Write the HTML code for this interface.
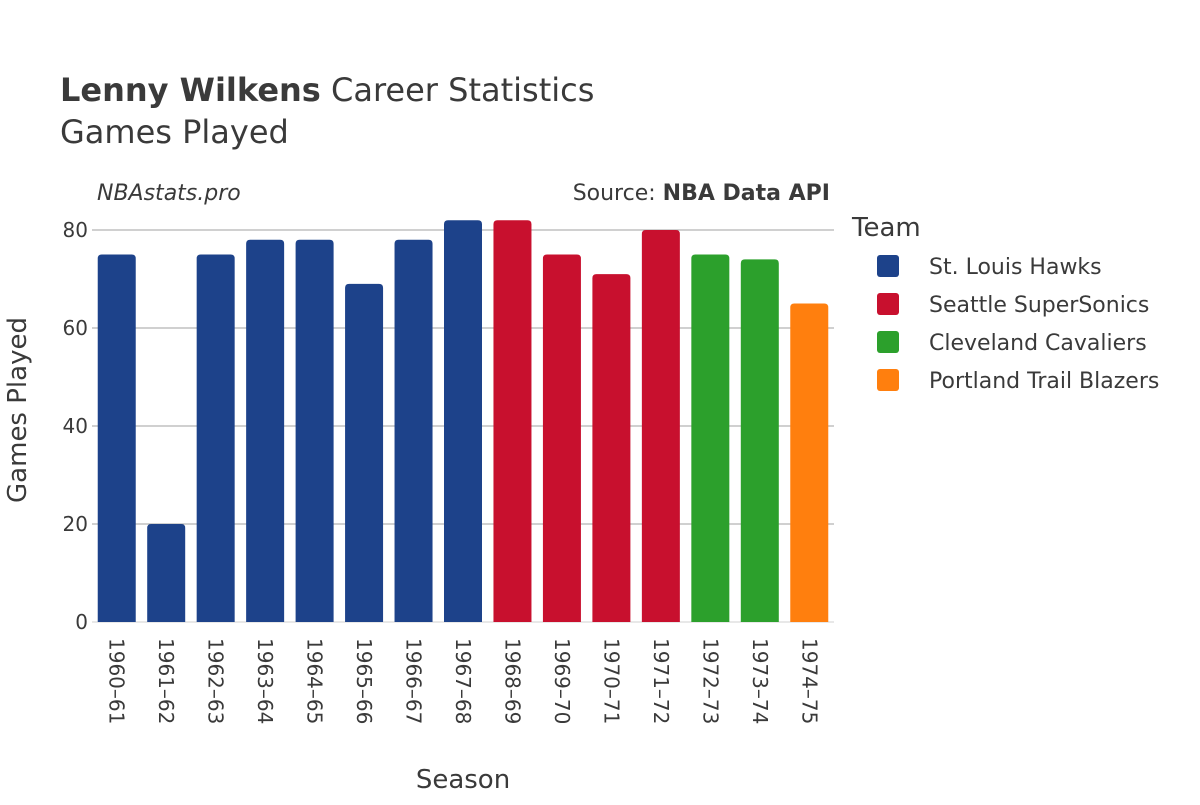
<!DOCTYPE html>
<html><head><meta charset="utf-8"><style>
body{margin:0;background:#fff;font-family:"Liberation Sans","DejaVu Sans",sans-serif;}
svg text{font-family:"DejaVu Sans","Liberation Sans",sans-serif;fill:#3a3a3a;}
</style></head><body>
<svg id="chart" width="1200" height="800">
<text x="60" y="101" font-size="32"><tspan font-weight="bold">Lenny Wilkens</tspan> Career Statistics</text>
<text x="60" y="143" font-size="32">Games Played</text>
<text x="97" y="200" font-size="22" font-style="italic">NBAstats.pro</text>
<text x="830" y="200" font-size="22" text-anchor="end">Source: <tspan font-weight="bold">NBA Data API</tspan></text>
<g id="grid"></g>
<g id="bars"></g>
<g id="xticks"></g>
<text x="463" y="788" font-size="26" text-anchor="middle">Season</text>
<text transform="translate(26,410) rotate(-90)" font-size="26" text-anchor="middle">Games Played</text>
<g id="legend"></g>
</svg>
<script>
const seasons=["1960–61","1961–62","1962–63","1963–64","1964–65","1965–66","1966–67","1967–68","1968–69","1969–70","1970–71","1971–72","1972–73","1973–74","1974–75"];
const games=[75,20,75,78,78,69,78,82,82,75,71,80,75,74,65];
const teams=["St. Louis Hawks","St. Louis Hawks","St. Louis Hawks","St. Louis Hawks","St. Louis Hawks","St. Louis Hawks","St. Louis Hawks","St. Louis Hawks","Seattle SuperSonics","Seattle SuperSonics","Seattle SuperSonics","Seattle SuperSonics","Cleveland Cavaliers","Cleveland Cavaliers","Portland Trail Blazers"];
const legendTeams=["St. Louis Hawks","Seattle SuperSonics","Cleveland Cavaliers","Portland Trail Blazers"];
const yTicks=[0,20,40,60,80];
const colors={"St. Louis Hawks":"#1d428a","Seattle SuperSonics":"#c8102e","Cleveland Cavaliers":"#2ca02c","Portland Trail Blazers":"#ff7f0e"};
const NS="http://www.w3.org/2000/svg";
const x0=92,x1=834,y0=622,yTop=230,yMaxVal=80;
const band=(x1-x0)/seasons.length;
const xs=i=>x0+band*i+band/2;
const ys=v=>y0-(y0-yTop)*v/yMaxVal;
function mk(t,a,p){const e=document.createElementNS(NS,t);for(const k in a)e.setAttribute(k,a[k]);p.appendChild(e);return e;}
const grid=document.getElementById('grid');
yTicks.forEach(v=>{
 const l=mk('line',{x1:x0,x2:x1,y1:ys(v),y2:ys(v),stroke:v===0?'#e8e8e8':'#a0a0a0','stroke-width':v===0?2:1},grid);
 
 
 const t=mk('text',{x:x0-4,y:ys(v)+7,'font-size':20,'text-anchor':'end'},grid);
 t.textContent=v;
 
 
});
const bars=document.getElementById('bars'),xt=document.getElementById('xticks');
const bw=38;
games.forEach((g,i)=>{
 const x=xs(i)-bw/2,y=ys(g),h=y0-y,r=4;
 const p=mk('path',{d:`M${x},${y0}V${y+r}Q${x},${y} ${x+r},${y}H${x+bw-r}Q${x+bw},${y} ${x+bw},${y+r}V${y0}Z`,fill:colors[teams[i]]},bars);
 
 
 const t=mk('text',{transform:`translate(${xs(i)-7},638) rotate(90)`,'font-size':20},xt);
 t.textContent=seasons[i];
 
 
});
const lg=document.getElementById('legend');
const lt=mk('text',{x:852,y:236,'font-size':26},lg);
lt.textContent='Team';


legendTeams.forEach((tm,i)=>{
 const y=266+i*38;
 const g=mk('g',{},lg);
 
 
 mk('rect',{x:877,y:y-11,width:22,height:22,rx:3,fill:colors[tm]},g);
 const t=mk('text',{x:929,y:y+8,'font-size':22},g);
 t.textContent=tm;
});
</script>
</body></html>
